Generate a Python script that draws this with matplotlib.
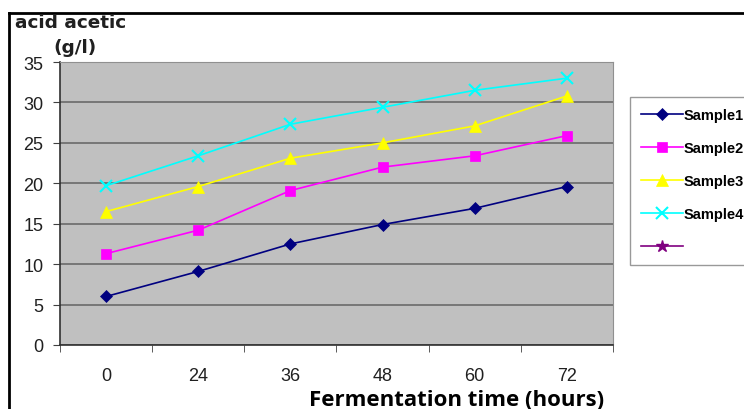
import numpy as np
import matplotlib.pyplot as plt
from matplotlib.lines import Line2D

# fermentation data
hours = ['0', '24', '36', '48', '60', '72']
sample1 = [6.0, 9.1, 12.5, 14.9, 16.9, 19.6]
sample2 = [11.3, 14.2, 19.1, 22.0, 23.4, 25.9]
sample3 = [16.5, 19.6, 23.1, 25.0, 27.1, 30.8]
sample4 = [19.7, 23.4, 27.3, 29.4, 31.5, 33.0]

series = [
    ('Sample1', sample1, '#000080', 'D', 6),
    ('Sample2', sample2, '#FF00FF', 's', 7),
    ('Sample3', sample3, '#FFFF00', '^', 8),
    ('Sample4', sample4, '#00FFFF', 'x', 8),
]

plt.rcParams['font.family'] = ['Liberation Sans', 'DejaVu Sans']

fig = plt.figure(figsize=(7.44, 4.10), dpi=100)
ax = fig.add_axes([60 / 744, 1 - 346 / 410, (613 - 60) / 744, (346 - 63) / 410])
ax.set_facecolor('#C0C0C0')

x = np.arange(len(hours))
for name, vals, color, marker, ms in series:
    ax.plot(x, vals, color=color, marker=marker, markersize=ms, linewidth=1.2,
            markeredgewidth=1.5 if marker == 'x' else 0.5, label=name, zorder=3)
# empty fifth series that only shows up in the legend
ax.plot([], [], color='#800080', marker='*', markersize=9, linewidth=1.2, label=' ')

ax.set_xlim(-0.5, len(hours) - 0.5)
ax.set_ylim(0, 35)
ax.set_yticks(np.arange(0, 36, 5))
ax.set_xticks(x)
ax.set_xticklabels(hours)
ax.set_xticks(np.arange(-0.5, len(hours), 1), minor=True)
ax.tick_params(axis='x', which='major', length=0, pad=16, labelsize=13, labelcolor='#202020')
ax.tick_params(axis='x', which='minor', length=5, color='#404040')
ax.tick_params(axis='y', length=5, color='#404040', labelsize=13, pad=7, labelcolor='#202020')
ax.grid(axis='y', color='#6a6a6a', linewidth=1.2, zorder=1)
ax.set_axisbelow(True)
for side in ['top', 'right']:
    ax.spines[side].set_color('#909090')
for side in ['left', 'bottom']:
    ax.spines[side].set_color('#303030')
    ax.spines[side].set_linewidth(1.2)

fig.text(15 / 744, 1 - 23 / 410, 'acid acetic', fontsize=13.3, fontweight='bold',
         ha='left', va='center', family=['DejaVu Sans'], color='#202020')
fig.text(53 / 744, 1 - 48 / 410, '(g/l)', fontsize=13.3, fontweight='bold',
         ha='left', va='center', family=['DejaVu Sans'], color='#202020')
fig.text(457 / 744, 1 - 401 / 410, 'Fermentation time (hours)', fontsize=16,
         fontweight='bold', ha='center', va='center', family=['Open Sans', 'DejaVu Sans'])

leg = ax.legend(loc='upper left', bbox_to_anchor=(630 / 744, 1 - 98 / 410),
                bbox_transform=fig.transFigure, frameon=True, fancybox=False,
                prop={'weight': 'bold', 'size': 10.5}, handlelength=2.9,
                labelspacing=1.3, borderpad=0.75, handletextpad=0.0,
                borderaxespad=0)
leg.get_frame().set_edgecolor('#808080')
leg.get_frame().set_linewidth(1.0)

# black frame around the chart region
fig.add_artist(Line2D([9 / 744, 1], [1 - 14 / 410, 1 - 14 / 410], color='black',
                      linewidth=2, transform=fig.transFigure))
fig.add_artist(Line2D([9 / 744, 9 / 744], [0, 1 - 14 / 410], color='black',
                      linewidth=2, transform=fig.transFigure))

fig.savefig('out.png', dpi=100)
